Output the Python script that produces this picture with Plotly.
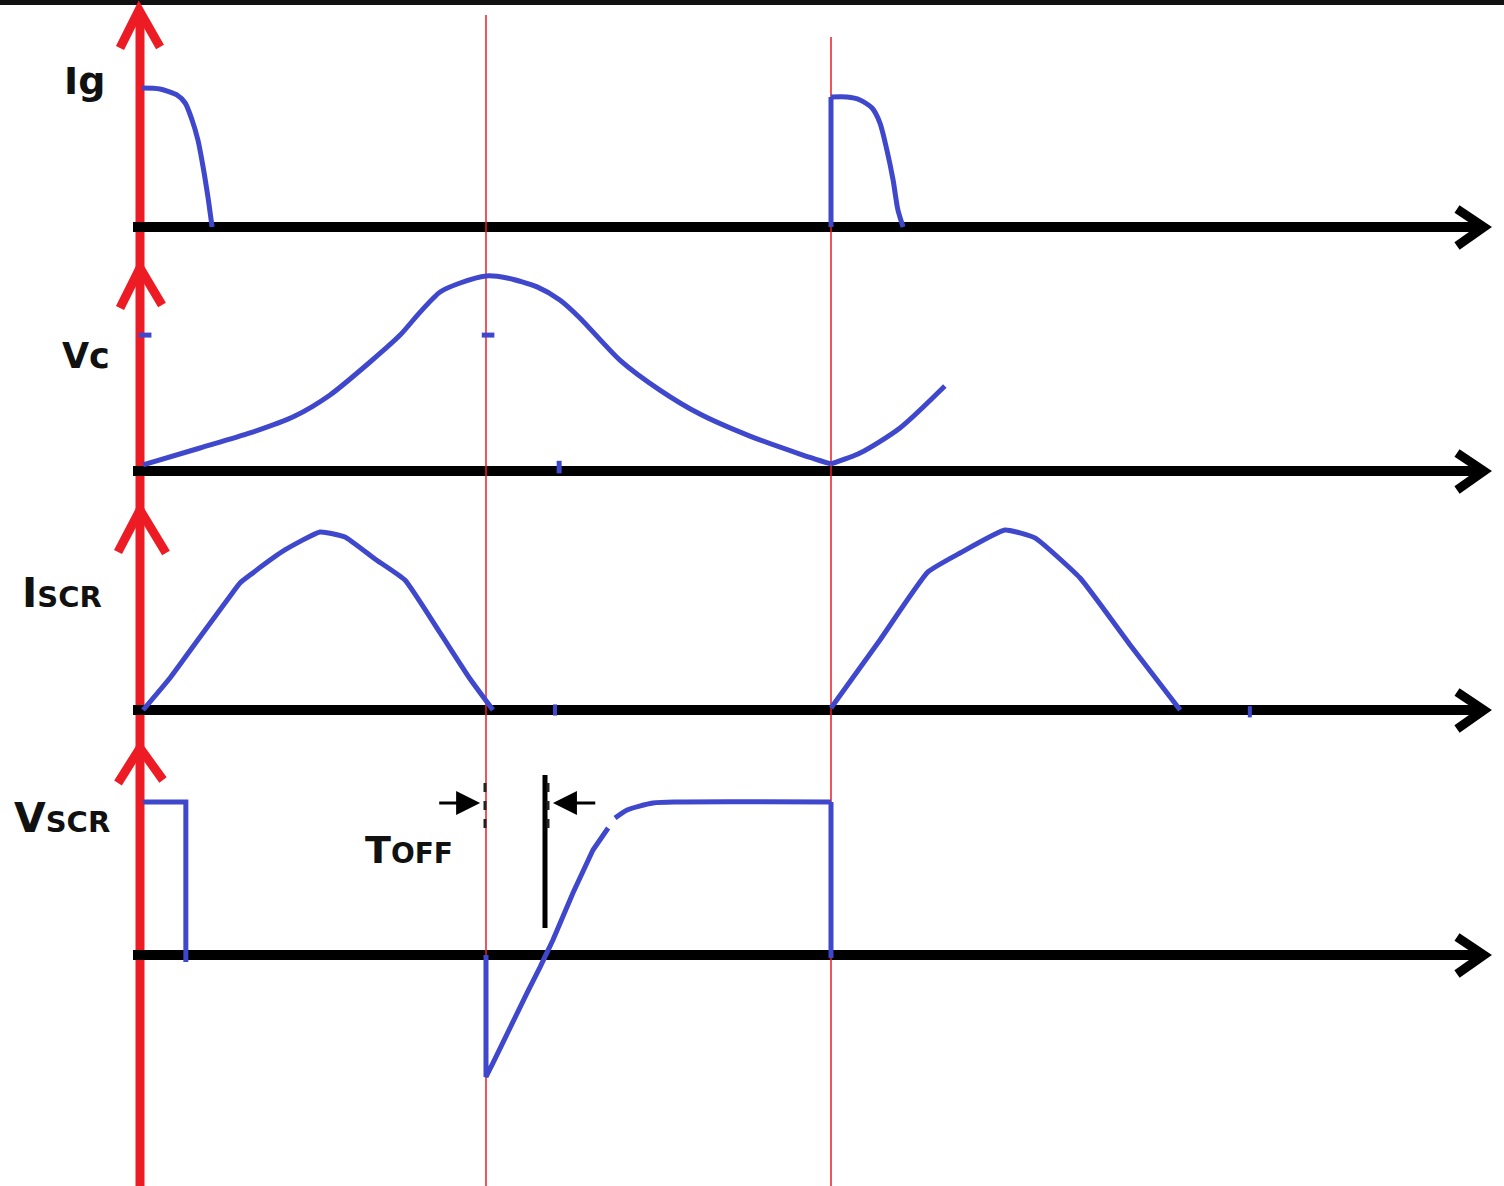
import plotly.graph_objects as go

# ---------------- data (time in units of the commutation interval, amplitudes normalised) -------------
ig_t1 = [0.003, 0.055, 0.104, 0.128, 0.148, 0.165, 0.180, 0.194, 0.206]
ig_a1 = [1.0, 0.993, 0.95, 0.892, 0.770, 0.626, 0.432, 0.216, 0.0]
ig_t2 = [2.0, 2.0]
ig_a2 = [0.0, 0.935]
ig_t3 = [2.0, 2.046, 2.084, 2.119, 2.142, 2.162, 2.180, 2.194, 2.209]
ig_a3 = [0.935, 0.935, 0.914, 0.856, 0.748, 0.554, 0.338, 0.122, 0.0]

vc_t = [0.006, 0.171, 0.316, 0.446, 0.548, 0.664, 0.751, 0.809, 0.867, 0.925, 1.0, 1.061, 1.148,
        1.214, 1.272, 1.388, 1.504, 1.620, 1.765, 1.910, 2.0]
vc_a = [0.031, 0.118, 0.195, 0.282, 0.390, 0.559, 0.697, 0.815, 0.918, 0.964, 1.0, 0.990, 0.944,
        0.877, 0.785, 0.569, 0.415, 0.292, 0.179, 0.087, 0.036]
vc_t2 = [2.0, 2.084, 2.2, 2.330]
vc_a2 = [0.036, 0.092, 0.221, 0.436]

iscr_t1 = [0.006, 0.084, 0.171, 0.267, 0.287, 0.316, 0.417, 0.519, 0.591, 0.678, 0.765, 0.867, 0.954, 1.020]
iscr_a1 = [0.0, 0.178, 0.406, 0.656, 0.706, 0.750, 0.889, 0.989, 0.961, 0.839, 0.722, 0.428, 0.172, 0.0]
iscr_t2 = [2.0, 2.142, 2.281, 2.374, 2.504, 2.591, 2.722, 2.867, 3.012]
iscr_a2 = [0.011, 0.389, 0.767, 0.872, 1.0, 0.956, 0.733, 0.361, 0.0]

vscr_t1 = [0.006, 0.130, 0.130]
vscr_a1 = [1.0, 1.0, -0.046]
vscr_t2 = [1.0, 1.0, 1.020, 1.061, 1.119, 1.157, 1.194, 1.252, 1.310, 1.354]
vscr_a2 = [0.0, -0.797, -0.706, -0.510, -0.248, -0.078, 0.098, 0.405, 0.686, 0.830]
vscr_t3 = [1.374, 1.409, 1.484, 1.562, 2.0, 2.0]
vscr_a3 = [0.895, 0.948, 0.993, 1.0, 1.0, -0.02]

# stray pen marks left in the drawing
vc_mark_t = [0.012, 1.006]
vc_mark_a = [0.697, 0.697]
vc_tick_t = [1.212]
vc_tick_a = [0.02]
iscr_mark_t = [1.200, 3.214]
iscr_mark_a = [0.0, -0.01]

t_fire = [1.0, 2.0]          # commutation / re-firing instants (red guide lines)
toff_start, toff_end = 1.0, 1.171

# ---------------- layout constants ----------------
W, H = 1504, 1186
X0_PX, PX_PER_T = 141, 345
PANELS = [("y", 227, 139), ("y2", 471, 195), ("y3", 710, 180), ("y4", 955, 153)]
BLUE = "#3F48CC"
RED = "#ED1C24"
BLACK = "#000000"


def px(x):
    return x / W


def py(y):
    return 1 - y / H


def tpx(t):
    return X0_PX + t * PX_PER_T


fig = go.Figure()
LW = 5
line = dict(color=BLUE, width=LW)
sline = dict(color=BLUE, width=LW, shape="spline", smoothing=0.7)
iline = dict(color=BLUE, width=LW, shape="spline", smoothing=0.4)

fig.add_trace(go.Scatter(x=ig_t1, y=ig_a1, mode="lines", line=sline, yaxis="y"))
fig.add_trace(go.Scatter(x=ig_t2, y=ig_a2, mode="lines", line=line, yaxis="y"))
fig.add_trace(go.Scatter(x=ig_t3, y=ig_a3, mode="lines", line=sline, yaxis="y"))
fig.add_trace(go.Scatter(x=vc_t, y=vc_a, mode="lines", line=sline, yaxis="y2"))
fig.add_trace(go.Scatter(x=vc_t2, y=vc_a2, mode="lines", line=sline, yaxis="y2"))
fig.add_trace(go.Scatter(x=iscr_t1, y=iscr_a1, mode="lines", line=iline, yaxis="y3"))
fig.add_trace(go.Scatter(x=iscr_t2, y=iscr_a2, mode="lines", line=iline, yaxis="y3"))
fig.add_trace(go.Scatter(x=vscr_t1, y=vscr_a1, mode="lines", line=line, yaxis="y4"))
fig.add_trace(go.Scatter(x=vscr_t2, y=vscr_a2, mode="lines", line=line, yaxis="y4"))
fig.add_trace(go.Scatter(x=vscr_t3[:-1], y=vscr_a3[:-1], mode="lines", line=sline, yaxis="y4"))
fig.add_trace(go.Scatter(x=vscr_t3[-2:], y=vscr_a3[-2:], mode="lines", line=line, yaxis="y4"))

fig.add_trace(go.Scatter(x=vc_mark_t, y=vc_mark_a, mode="markers", yaxis="y2",
                         marker=dict(symbol="line-ew", size=9, line=dict(color=BLUE, width=5))))
fig.add_trace(go.Scatter(x=vc_tick_t, y=vc_tick_a, mode="markers", yaxis="y2",
                         marker=dict(symbol="line-ns", size=9, line=dict(color=BLUE, width=5))))
fig.add_trace(go.Scatter(x=iscr_mark_t, y=iscr_mark_a, mode="markers", yaxis="y3",
                         marker=dict(symbol="line-ns", size=8, line=dict(color=BLUE, width=4))))

shapes = []
# top dark border
shapes.append(dict(type="rect", xref="paper", yref="paper", x0=0, x1=1, y0=py(5), y1=1,
                   fillcolor="#111111", line=dict(width=0), layer="below"))
# red vertical axis
shapes.append(dict(type="line", xref="paper", yref="paper", x0=px(140), x1=px(140), y0=py(12), y1=0,
                   line=dict(color=RED, width=9), layer="below"))
for apex, l, r in [((139, 10), (120, 48), (160, 47)), ((140, 268), (120, 308), (162, 305)),
                   ((140, 510), (118, 552), (166, 553)), ((140, 748), (118, 783), (163, 780))]:
    path = "M %f %f L %f %f L %f %f" % (px(l[0]), py(l[1]), px(apex[0]), py(apex[1]), px(r[0]), py(r[1]))
    shapes.append(dict(type="path", xref="paper", yref="paper", path=path,
                       line=dict(color=RED, width=9), layer="below"))
# black baselines with arrowheads
for yref, base, scale in PANELS:
    shapes.append(dict(type="line", xref="paper", yref=yref, x0=px(133), x1=px(1482), y0=0, y1=0,
                       line=dict(color=BLACK, width=10), layer="below"))
    path = "M %f %f L %f %f L %f %f" % (px(1457), py(base - 18), px(1484), py(base),
                                         px(1457), py(base + 19))
    shapes.append(dict(type="path", xref="paper", yref="paper", path=path,
                       line=dict(color=BLACK, width=9), layer="below"))
# thin red guide lines
for t, top in zip(t_fire, [15, 37]):
    shapes.append(dict(type="line", xref="x", yref="paper", x0=t, x1=t, y0=py(top), y1=0,
                       line=dict(color=RED, width=1.5), layer="below"))
# Toff marker line
shapes.append(dict(type="line", xref="x", yref="paper", x0=toff_end, x1=toff_end, y0=py(775), y1=py(928),
                   line=dict(color=BLACK, width=5)))
# small dashed ticks
for xx in [tpx(toff_start) - 1, tpx(toff_end) + 3]:
    shapes.append(dict(type="line", xref="paper", yref="paper", x0=px(xx), x1=px(xx), y0=py(783), y1=py(828),
                       line=dict(color="#222222", width=3, dash="dash")))

annotations = []
FONT = "DejaVu Sans"


def label(text, x_left, y_mid, size):
    annotations.append(dict(text=text, xref="paper", yref="paper", x=px(x_left), y=py(y_mid),
                            xanchor="left", yanchor="middle", showarrow=False,
                            font=dict(family=FONT, size=size, color="#111111")))


label("<b>Ig</b>", 62, 81, 38)
label("<b>Vc</b>", 60, 356, 35)
label("<b>I<span style='font-size:29px'>SCR</span></b>", 20, 593, 41)
label("<b>V<span style='font-size:29px'>SCR</span></b>", 12, 818, 41)
label("<b>T<span style='font-size:28px'>OFF</span></b>", 363, 850, 38)

# Toff arrows
annotations.append(dict(text="", x=toff_start - 0.017, y=py(803), xref="x", yref="paper",
                        ax=toff_start - 0.14, ay=0, axref="x", ayref="pixel",
                        showarrow=True, arrowhead=2, arrowsize=1.6, arrowwidth=3, arrowcolor=BLACK,
                        standoff=0, startstandoff=0))
annotations.append(dict(text="", x=toff_end + 0.023, y=py(803), xref="x", yref="paper",
                        ax=toff_end + 0.15, ay=0, axref="x", ayref="pixel",
                        showarrow=True, arrowhead=2, arrowsize=1.6, arrowwidth=3, arrowcolor=BLACK,
                        standoff=0, startstandoff=0))

layout = dict(
    width=W, height=H, margin=dict(l=0, r=0, t=0, b=0),
    paper_bgcolor="white", plot_bgcolor="white", showlegend=False,
    xaxis=dict(range=[(0 - X0_PX) / PX_PER_T, (W - X0_PX) / PX_PER_T], visible=False, fixedrange=True),
    shapes=shapes, annotations=annotations,
)
for i, (yref, base, scale) in enumerate(PANELS):
    key = "yaxis" if i == 0 else "yaxis%d" % (i + 1)
    ax = dict(range=[-(H - base) / scale, base / scale], visible=False, domain=[0, 1], fixedrange=True)
    if i > 0:
        ax["overlaying"] = "y"
    layout[key] = ax

fig.update_layout(**layout)
fig.write_html("out.html", config={"displayModeBar": False},
               post_script="document.body.style.margin='0px';")
